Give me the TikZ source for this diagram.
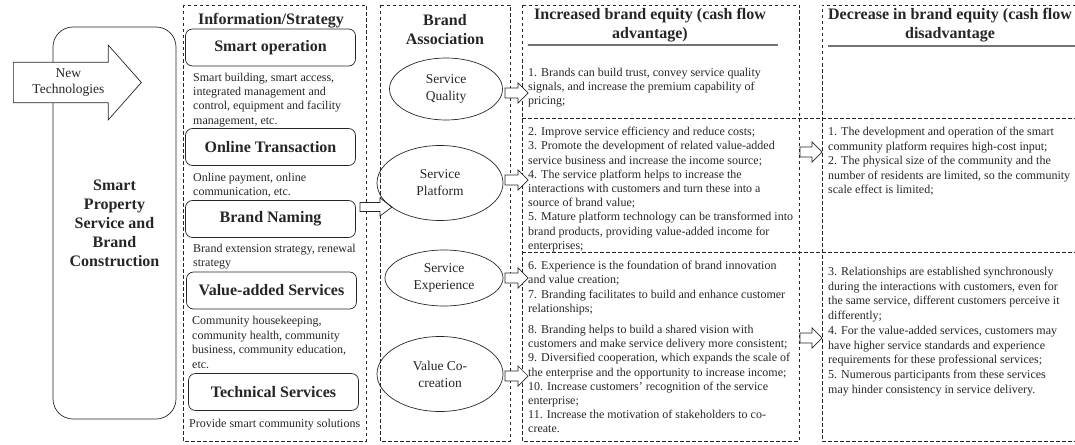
\documentclass[tikz,border=0pt]{standalone}
\usepackage{fontspec}
\setmainfont{Liberation Serif}
\usetikzlibrary{shapes.geometric,shapes.arrows}

\tikzset{
  column/.style={draw=black!85, line width=0.7pt, dash pattern=on 3.5pt off 2.5pt},
  strategy/.style={draw=black!85, line width=0.7pt, rounded corners=7pt, minimum width=170pt, minimum height=37pt, font=\fontsize{16}{19}\selectfont\bfseries},
  desc/.style={anchor=north west, inner sep=0pt, align=left, font=\fontsize{12}{14.2}\selectfont},
  assoc/.style={draw=black!85, line width=0.7pt, ellipse, inner sep=0pt, align=center, font=\fontsize{13.5}{17}\selectfont},
  heading/.style={align=center, inner sep=0pt, font=\fontsize{16}{19}\selectfont\bfseries},
  arrowline/.style={draw=black!85, fill=white, line width=0.7pt, line join=miter},
  % hollow block arrow: length / half body / half head / head length
  pics/blockarrow/.style n args={4}{code={
    \draw[arrowline] (0,-#2) -- (#1-#4,-#2) -- (#1-#4,-#3) -- (#1,0) -- (#1-#4,#3) -- (#1-#4,#2) -- (0,#2) -- cycle;
  }}
}

\begin{document}
\begin{tikzpicture}[x=1pt, y=-1pt, text=black!85]
    \useasboundingbox (0,0) rectangle (1075,444);

    % left block and the incoming technologies
    \node[draw=black!85, line width=0.7pt, rounded corners=20pt, minimum width=123pt, minimum height=392pt, align=center, font=\fontsize{16}{19}\selectfont\bfseries] (property) at (114.5,223) {Smart\\Property\\Service and\\Brand\\Construction};
    \node[single arrow, arrowline, anchor=tail, inner sep=0pt, minimum height=128pt, minimum width=75pt, single arrow head extend=12pt, single arrow tip angle=97, align=center, font=\fontsize{13.5}{16}\selectfont] (newtech) at (13,82.5) {New\\Technologies};

    % columns
    \draw[column] (183,5) rectangle (366,441);
    \draw[column] (380,5) rectangle (510,441);
    \draw[column] (522,5) rectangle (799,441);
    \draw[column] (1076,5) -| (822,441) -- (1076,441);
    \draw[column] (522,118) -- (1076,118);
    \draw[column] (522,252) -- (1076,252);

    % information / strategy
    \node[heading] (infotitle) at (271,20.5) {Information/Strategy};
    \node[strategy] (operation) at (270.5,47.5) {Smart operation};
    \node[desc] (operationtxt) at (193,73) {Smart building, smart access,\\integrated management and\\control, equipment and facility\\management, etc.};
    \node[strategy] (online) at (270.5,147) {Online Transaction};
    \node[desc] (onlinetxt) at (193,173) {Online payment, online\\communication, etc.};
    \node[strategy] (naming) at (270.5,219) {Brand Naming};
    \node[desc] (namingtxt) at (193,244) {Brand extension strategy, renewal\\strategy};
    \node[strategy] (valueadded) at (271.5,290.5) {Value-added Services};
    \node[desc, font=\fontsize{12}{14.6}\selectfont] (valueaddedtxt) at (192,316) {Community housekeeping,\\community health, community\\business, community education,\\etc.};
    \node[strategy] (technical) at (273.5,392) {Technical Services};
    \node[desc] (technicaltxt) at (189,419) {Provide smart community solutions};

    \pic (toassoc) at (360,207) {blockarrow={32}{4.5}{9}{12}};

    % brand association
    \node[heading] (assoctitle) at (445,30) {Brand\\Association};
    \node[assoc, minimum width=113pt, minimum height=62pt] (quality) at (446,89) {Service\\Quality};
    \node[assoc, minimum width=126pt, minimum height=75pt] (platform) at (440,183) {Service\\Platform};
    \node[assoc, minimum width=118pt, minimum height=56pt] (experience) at (444,278) {Service\\Experience};
    \node[assoc, minimum width=126pt, minimum height=75pt] (cocreation) at (440,374) {Value Co-\\creation};

    \pic (qualityarr) at (505,93) {blockarrow={23}{5}{10}{10}};
    \pic (platformarr) at (505,180) {blockarrow={23}{5}{10}{10}};
    \pic (experiencearr) at (505,278) {blockarrow={23}{5}{10}{10}};
    \pic (cocreationarr) at (505,376) {blockarrow={23}{5}{10}{10}};

    % increased brand equity
    \node[heading] (uptitle) at (650,25.5) {Increased brand equity (cash flow\\advantage)};
    \draw[black!55, line width=1.5pt] (528,45) -- (778,45);
    \node[desc] (uptxta) at (528,68) {1. Brands can build trust, convey service quality\\signals, and increase the premium capability of\\pricing;};
    \node[desc] (uptxtb) at (528,127) {2. Improve service efficiency and reduce costs;\\3. Promote the development of related value-added\\service business and increase the income source;\\4. The service platform helps to increase the\\interactions with customers and turn these into a\\source of brand value;\\5. Mature platform technology can be transformed into\\brand products, providing value-added income for\\enterprises;};
    \node[desc] (uptxtc) at (528,261) {6. Experience is the foundation of brand innovation\\and value creation;\\7. Branding facilitates to build and enhance customer\\relationships;};
    \node[desc] (uptxtd) at (528,325) {8. Branding helps to build a shared vision with\\customers and make service delivery more consistent;\\9. Diversified cooperation, which expands the scale of\\the enterprise and the opportunity to increase income;\\10. Increase customers' recognition of the service\\enterprise;\\11. Increase the motivation of stakeholders to co-\\create.};

    \pic (downarra) at (800,152) {blockarrow={22}{5}{10}{10}};
    \pic (downarrb) at (800,338) {blockarrow={22}{5}{10}{10}};

    % decrease in brand equity
    \node[heading] (downtitle) at (950,25.5) {Decrease in brand equity (cash flow\\disadvantage};
    \draw[black!55, line width=1.5pt] (828,46) -- (1076,46);
    \node[desc, font=\fontsize{12}{14.5}\selectfont] (downtxta) at (828,127) {1. The development and operation of the smart\\community platform requires high-cost input;\\2. The physical size of the community and the\\number of residents are limited, so the community\\scale effect is limited;};
    \node[desc, font=\fontsize{12}{14.7}\selectfont] (downtxtb) at (828,267) {3. Relationships are established synchronously\\during the interactions with customers, even for\\the same service, different customers perceive it\\differently;\\4. For the value-added services, customers may\\have higher service standards and experience\\requirements for these professional services;\\5. Numerous participants from these services\\may hinder consistency in service delivery.};
\end{tikzpicture}
\end{document}
